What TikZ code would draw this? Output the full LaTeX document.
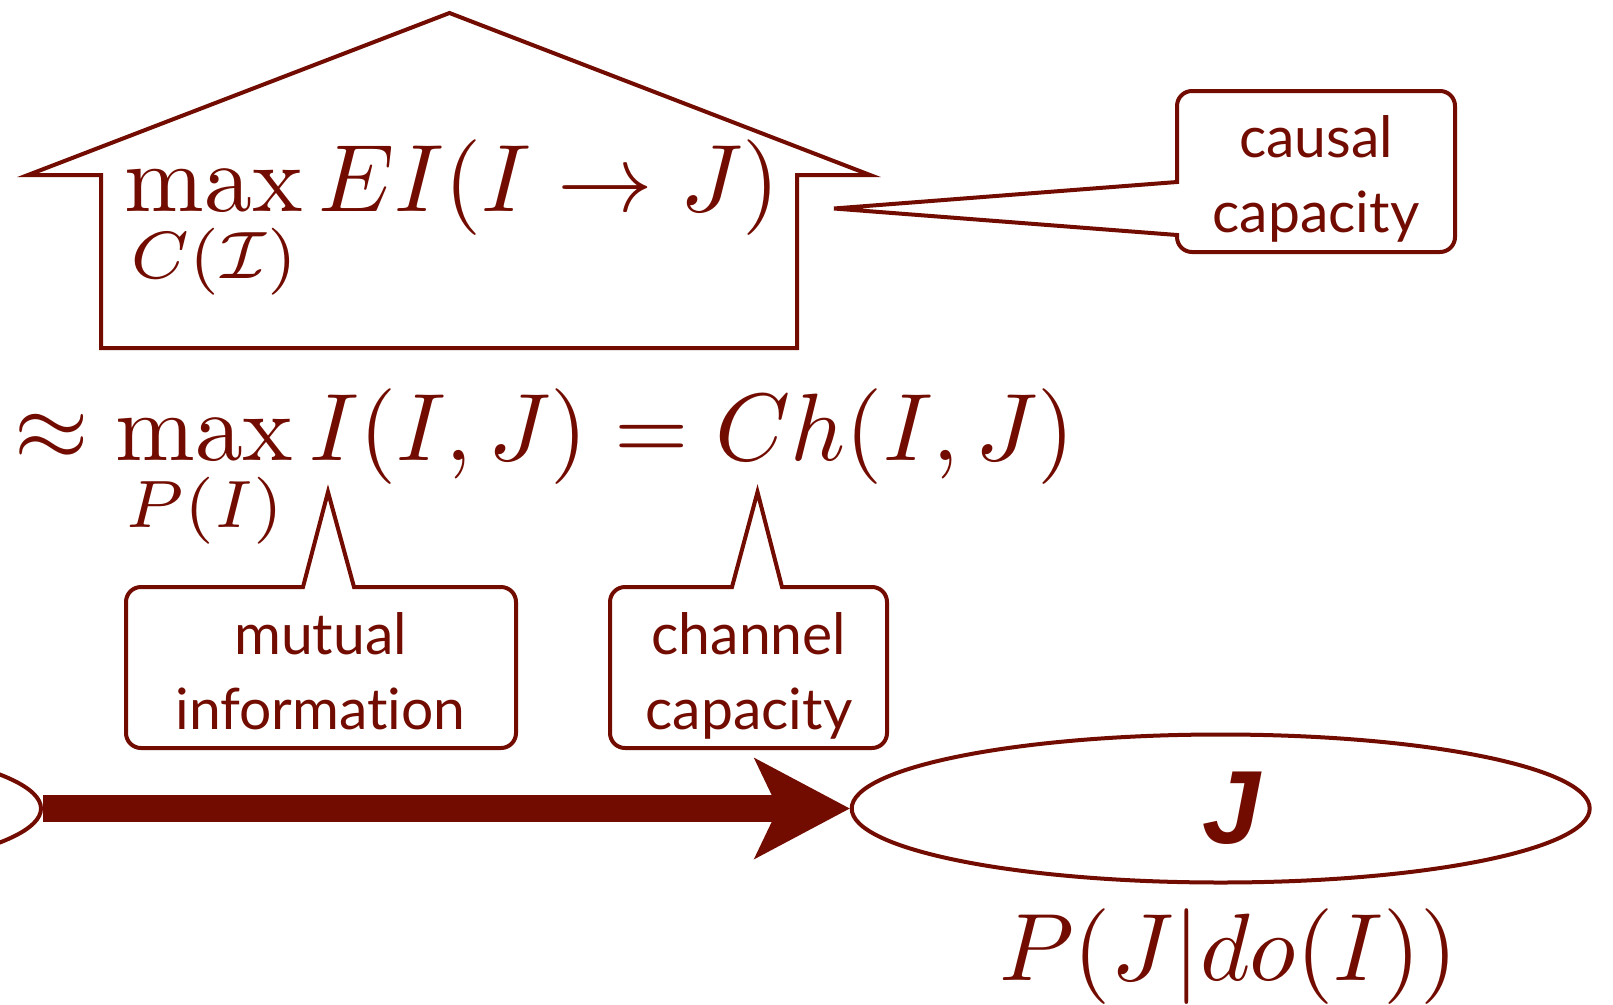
\documentclass[tikz,border=0pt]{standalone}
\usepackage{graphicx}
\usepackage{fontspec}
\newfontfamily\callfont{Lato}[Ligatures=NoCommon]
\newfontfamily\jfont{Liberation Sans}
\usetikzlibrary{shapes.geometric,calc}
\definecolor{dred}{RGB}{114,12,0}
\newcommand\bigmath[1]{\scalebox{9.57}{$\displaystyle #1$}}
\tikzset{
  eqn/.style={inner sep=0pt, anchor=base west},
  calltext/.style={inner sep=0pt, align=center, font=\callfont\fontsize{57}{75}\selectfont},
  blob/.style={ellipse, draw, line width=4pt, minimum width=738pt, minimum height=148pt, inner sep=0pt},
  outline/.style={draw, line width=4pt, line join=miter},
}
\begin{document}
\begin{tikzpicture}[x=1pt,y=-1pt,color=dred]
\useasboundingbox (0,0) rectangle (1613,1004);
% house-shaped frame
\draw[outline] (28,175) -- (449.5,13) -- (870,175) -- (797,175) -- (797,348) -- (101,348) -- (101,175) -- cycle;
\node[eqn] (eq1) at (124.5,211.7) {\bigmath{\max_{C(\mathcal{I})} EI(I\to J)}};
\node[eqn] (eq2) at (14.2,460) {\bigmath{\approx\max_{P(I)} I(I,J)=Ch(I,J)}};
% pointer tips
\coordinate (causalTip) at (834,208.5);
\coordinate (mutTip) at (328,492);
\coordinate (chTip) at (757.5,492);
% callouts
\draw[outline] (causalTip) -- (1177,182) -- (1177,106) .. controls (1177,97.7) and (1183.7,91) .. (1192,91) -- (1440,91) .. controls (1448.3,91) and (1455,97.7) .. (1455,106) -- (1455,237) .. controls (1455,245.3) and (1448.3,252) .. (1440,252) -- (1192,252) .. controls (1183.7,252) and (1177,245.3) .. (1177,237) -- (1177,235) -- cycle;
\draw[outline] (mutTip) -- (354,587) -- (501,587) .. controls (509.3,587) and (516,593.7) .. (516,602) -- (516,733) .. controls (516,741.3) and (509.3,748) .. (501,748) -- (141,748) .. controls (132.7,748) and (126,741.3) .. (126,733) -- (126,602) .. controls (126,593.7) and (132.7,587) .. (141,587) -- (303,587) -- cycle;
\draw[outline] (chTip) -- (782,587) -- (872,587) .. controls (880.3,587) and (887,593.7) .. (887,602) -- (887,733) .. controls (887,741.3) and (880.3,748) .. (872,748) -- (625,748) .. controls (616.7,748) and (610,741.3) .. (610,733) -- (610,602) .. controls (610,593.7) and (616.7,587) .. (625,587) -- (732,587) -- cycle;
\node[calltext] (causal) at (1316,179) {causal\\capacity};
\node[calltext] (mutual) at (320.5,671) {mutual\\information};
\node[calltext] (channel) at (749,675.5) {channel\\capacity};
% variables
\node[blob] (I) at (-328,808.5) {};
\node[blob] (J) at (1220.7,808.5) {\jfont\bfseries\itshape\fontsize{104}{104}\selectfont\hspace*{22pt}J};
\draw[line width=26.7pt] (I.east) -- ($(J.west)+(-74,0)$);
\fill (J.west) -- ($(J.west)+(-96,-51)$) -- ($(J.west)+(-78,-13.4)$) -- ($(J.west)+(-78,13.4)$) -- ($(J.west)+(-96,51)$) -- cycle;
\node[eqn] (dist) at (999,980) {\bigmath{P(J|do(I))}};
\end{tikzpicture}
\end{document}
